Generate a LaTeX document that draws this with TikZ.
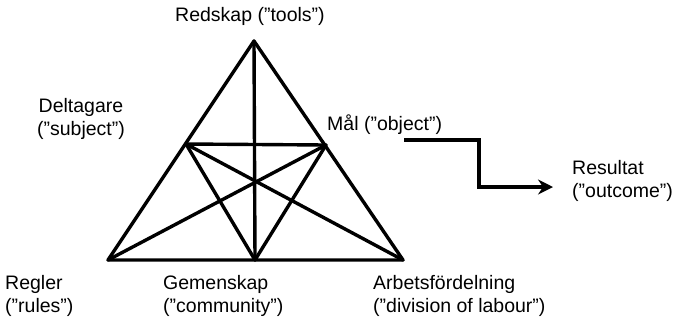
\documentclass[tikz,border=0pt]{standalone}
\usepackage{fontspec}
\setmainfont{Liberation Sans}
\usetikzlibrary{arrows.meta}
\begin{document}
\begin{tikzpicture}[x=1pt,y=-1pt,
  lbl/.style={inner sep=0pt,font=\fontsize{19.5}{23}\selectfont},
  edge/.style={line width=3.4pt,line cap=round,line join=round},
  flow/.style={line width=3.4pt,-{Stealth[length=15pt,width=15pt,inset=5pt]}}]
\useasboundingbox (0,0) rectangle (680,325);
\coordinate (T) at (254,41);
\coordinate (BL) at (108,260);
\coordinate (BR) at (403,260);
\coordinate (BM) at (255,260);
\coordinate (LM) at (186,144);
\coordinate (RM) at (326,145);
\draw[edge] (T) -- (BL) -- (BR) -- cycle;
\draw[edge] (T) -- (BM);
\draw[edge] (LM) -- (RM);
\draw[edge] (LM) -- (BM) -- (RM);
\draw[edge] (LM) -- (BR);
\draw[edge] (RM) -- (BL);
\node[lbl] (tools) at (250,16) {Redskap (”tools”)};
\node[lbl,align=center] (subj) at (81,119) {Deltagare\\(”subject”)};
\node[lbl,anchor=west] (obj) at (327,125) {Mål (”object”)};
\node[lbl,align=left,anchor=west] (out) at (572,181) {Resultat\\(”outcome”)};
\node[lbl,align=left,anchor=west] (rules) at (5,296) {Regler\\(”rules”)};
\node[lbl,align=left,anchor=west] (comm) at (163,296) {Gemenskap\\(”community”)};
\node[lbl,align=left,anchor=west] (div) at (373,296) {Arbetsfördelning\\(”division of labour”)};
\coordinate (a0) at (404,140);
\coordinate (a1) at (553,187);
\draw[flow] (a0) -| (479,187) -- (a1);
\end{tikzpicture}
\end{document}
